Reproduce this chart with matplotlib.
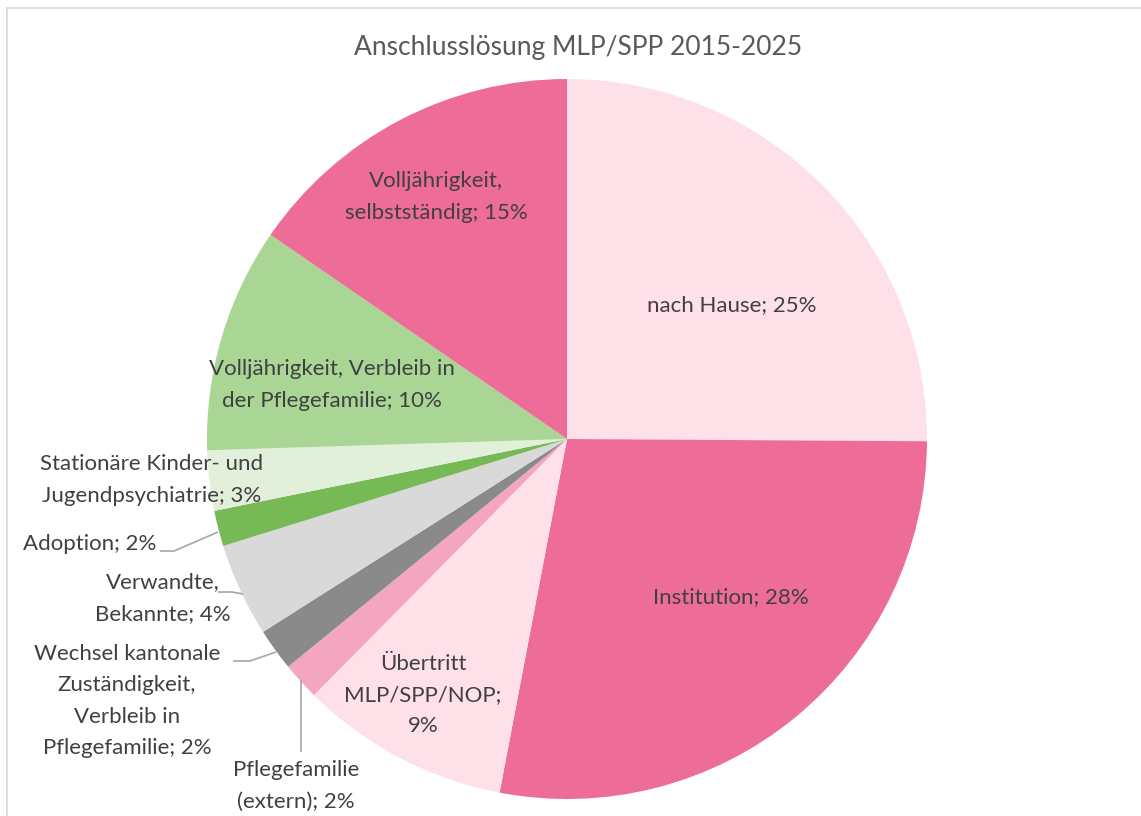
import numpy as np
import matplotlib.pyplot as plt
from matplotlib.lines import Line2D

# Daten (Anteile in %, im Uhrzeigersinn ab 12 Uhr)
labels = ['nach Hause', 'Institution', 'Übertritt\nMLP/SPP/NOP;\n', 'Pflegefamilie\n(extern)',
          'Wechsel kantonale\nZuständigkeit,\nVerbleib in\nPflegefamilie', 'Verwandte,\nBekannte',
          'Adoption', 'Stationäre Kinder- und\nJugendpsychiatrie', 'Volljährigkeit, Verbleib in\nder Pflegefamilie',
          'Volljährigkeit,\nselbstständig']
values = [25.1, 27.9, 9.4, 1.7, 1.9, 4.2, 1.6, 2.7, 10.1, 15.4]
colors = ['#FDE0E8', '#ED6D98', '#FDE0E8', '#F4A6C0', '#8A8A8A', '#D9D9D9',
          '#76B955', '#E2EFDA', '#A9D595', '#ED6D98']

plt.rcParams['font.family'] = ['Lato', 'DejaVu Sans']

W, H = 1141, 816
cx, cy, R = 567, 439, 360

fig = plt.figure(figsize=(W / 100, H / 100), dpi=100)
ax = fig.add_axes([0, 0, 1, 1])
ax.pie(values, colors=colors, startangle=90, counterclock=False, radius=1,
       wedgeprops=dict(linewidth=0))
ax.set_xlim(-cx / R, (W - cx) / R)
ax.set_ylim(-(H - cy) / R, cy / R)
ax.set_aspect('equal')
ax.axis('off')


def px(x, y):
    return (x - cx) / R, (cy - y) / R


def pct_text(i):
    sep = '' if labels[i].endswith('\n') else '; '
    return f'{labels[i]}{sep}{round(values[i])}%'


# Label-Positionen (Pixel), Ausrichtung
label_pos = [
    (732, 305, 'center'),
    (731, 597, 'center'),
    (423, 695, 'center'),
    (296, 786, 'center'),
    (127, 701, 'center'),
    (163, 598, 'center'),
    (156, 544, 'right'),
    (152, 480, 'center'),
    (332, 385, 'center'),
    (436, 197, 'center'),
]
tc = '#404040'
for i, (x, y, ha) in enumerate(label_pos):
    X, Y = px(x, y)
    ax.text(X, Y, pct_text(i), ha=ha, va='center', fontsize=16, color=tc,
            linespacing=1.7)

# Führungslinien
lc = '#A6A6A6'
leaders = [
    [(301, 752), (301, 680)],
    [(233, 661), (250, 661), (276, 652)],
    [(218, 592), (232, 592), (243, 594)],
    [(160, 551), (174, 551), (218, 532)],
]
for pts in leaders:
    xs, ys = zip(*[px(a, b) for a, b in pts])
    ax.plot(xs, ys, color=lc, linewidth=1.2, solid_capstyle='butt')

# Titel
ax.text(*px(578, 47), 'Anschlusslösung MLP/SPP 2015-2025', ha='center', va='center',
        fontsize=19, color='#595959')

# Rahmen (abgeschnitten)
fig.add_artist(Line2D([7 / W, 1], [1 - 8 / H, 1 - 8 / H], color='#D9D9D9', linewidth=1.2))
fig.add_artist(Line2D([7 / W, 7 / W], [0, 1 - 8 / H], color='#D9D9D9', linewidth=1.2))

plt.savefig('out.png', dpi=100)
